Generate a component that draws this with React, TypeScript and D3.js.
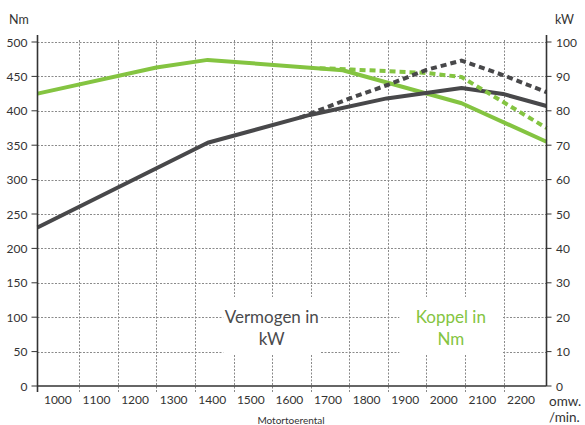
import React, { useEffect, useRef } from 'react';
import * as d3 from 'd3';

// Koppel (Nm), standaard curve
const torqueRpm = [942, 1250, 1383, 1733, 2041, 2261];
const torqueNm = [425, 463, 474, 459, 411, 355];

// Koppel (Nm), gestippelde curve
const torqueAltRpm = [1673, 1756, 1951, 2041, 2261];
const torqueAltNm = [462, 460, 455, 449, 375];

// Vermogen (kW), standaard curve
const powerRpm = [942, 1383, 1648, 1847, 2041, 2148, 2261];
const powerKw = [46.1, 70.7, 78.8, 83.6, 86.6, 84.9, 81.4];

// Vermogen (kW), gestippelde curve
const powerAltRpm = [1622, 1751, 1849, 1950, 2041, 2148, 2261];
const powerAltKw = [78, 83.6, 87.5, 91.9, 94.6, 90.4, 85.4];

const xTickLabels = [1000, 1100, 1200, 1300, 1400, 1500, 1600, 1700, 1800, 1900, 2000, 2100, 2200];
const xGridValues = [1050, 1150, 1250, 1350, 1450, 1550, 1650, 1750, 1850, 1950, 2050, 2150];
const nmTicks = [0, 50, 100, 150, 200, 250, 300, 350, 400, 450, 500];
const kwTicks = [0, 10, 20, 30, 40, 50, 60, 70, 80, 90, 100];

const GREEN = '#84c441';
const DARK = '#48484a';
const FONT = 'Lato, "Open Sans", sans-serif';

type Pt = { rpm: number; v: number };
const zip = (xs: number[], ys: number[]): Pt[] => xs.map((x, i) => ({ rpm: x, v: ys[i] }));

function App() {
  const svgRef = useRef<SVGSVGElement>(null);
  const width = 585;
  const height = 425;

  useEffect(() => {
    if (!svgRef.current) return;
    const svg = d3.select(svgRef.current);
    svg.selectAll('*').remove();

    const left = 37.5, right = 546.5, top = 42, bottom = 386;

    const x = d3.scaleLinear().domain([942, 2261]).range([left, right]);
    const yNm = d3.scaleLinear().domain([0, 500]).range([bottom, top]);
    const yKw = d3.scaleLinear().domain([0, 100]).range([bottom, top]);

    // grid
    const grid = svg.append('g')
      .attr('stroke', '#8a8a8a')
      .attr('stroke-width', 1)
      .attr('stroke-dasharray', '2,1.5');
    grid.selectAll('.hg')
      .data(nmTicks.filter(d => d > 0))
      .enter().append('line')
      .attr('x1', left).attr('x2', right)
      .attr('y1', d => Math.round(yNm(d)) + 0.5)
      .attr('y2', d => Math.round(yNm(d)) + 0.5);
    grid.selectAll('.vg')
      .data(xGridValues)
      .enter().append('line')
      .attr('x1', d => Math.round(x(d)) + 0.5).attr('x2', d => Math.round(x(d)) + 0.5)
      .attr('y1', top - 2).attr('y2', bottom + 6);

    // white boxes behind labels
    const boxes = [
      { cx: x(1549), w: 97 },
      { cx: x(2013), w: 103 },
    ];
    svg.selectAll('.box')
      .data(boxes)
      .enter().append('rect')
      .attr('x', d => d.cx - d.w / 2)
      .attr('y', 297)
      .attr('width', d => d.w)
      .attr('height', 58)
      .attr('fill', '#fff');

    // curves
    const line = (yScale: d3.ScaleLinear<number, number>) =>
      d3.line<Pt>().x(d => x(d.rpm)).y(d => yScale(d.v));

    const series = [
      { data: zip(torqueRpm, torqueNm), y: yNm, color: GREEN, dash: null },
      { data: zip(powerRpm, powerKw), y: yKw, color: DARK, dash: null },
      { data: zip(torqueAltRpm, torqueAltNm), y: yNm, color: GREEN, dash: '6,4' },
      { data: zip(powerAltRpm, powerAltKw), y: yKw, color: DARK, dash: '6,4' },
    ];
    series.forEach(s => {
      svg.append('path')
        .datum(s.data)
        .attr('d', line(s.y))
        .attr('fill', 'none')
        .attr('stroke', s.color)
        .attr('stroke-width', 4)
        .attr('stroke-linejoin', 'round')
        .attr('stroke-dasharray', s.dash);
    });

    // axes lines
    const axes = svg.append('g').attr('stroke', '#333').attr('stroke-width', 1.6);
    axes.append('line').attr('x1', left).attr('x2', left).attr('y1', top - 7).attr('y2', bottom + 6);
    axes.append('line').attr('x1', right).attr('x2', right).attr('y1', top - 7).attr('y2', bottom);
    axes.append('line').attr('x1', left).attr('x2', right).attr('y1', bottom).attr('y2', bottom);

    // left ticks
    const lt = svg.append('g');
    lt.selectAll('line')
      .data(nmTicks)
      .enter().append('line')
      .attr('x1', left - 6).attr('x2', left)
      .attr('y1', d => yNm(d)).attr('y2', d => yNm(d))
      .attr('stroke', '#333').attr('stroke-width', 1);
    lt.selectAll('text')
      .data(nmTicks)
      .enter().append('text')
      .attr('x', 27.5)
      .attr('y', d => yNm(d) + 4.5)
      .attr('text-anchor', 'end')
      .style('font-family', FONT).style('font-size', '12px').style('fill', '#333')
      .text(d => d);

    // right ticks
    const rt = svg.append('g');
    rt.selectAll('line')
      .data(kwTicks)
      .enter().append('line')
      .attr('x1', right).attr('x2', right + 5)
      .attr('y1', d => yKw(d)).attr('y2', d => yKw(d))
      .attr('stroke', '#333').attr('stroke-width', 1);
    rt.selectAll('text')
      .data(kwTicks)
      .enter().append('text')
      .attr('x', 556)
      .attr('y', d => yKw(d) + 4.5)
      .attr('text-anchor', 'start')
      .style('font-family', FONT).style('font-size', '12px').style('fill', '#333')
      .text(d => d);

    // x tick labels
    svg.append('g').selectAll('text')
      .data(xTickLabels)
      .enter().append('text')
      .attr('x', d => x(d) - 2)
      .attr('y', 404)
      .attr('text-anchor', 'middle')
      .style('font-family', FONT).style('font-size', '12px').style('fill', '#333')
      .text(d => d);

    // axis titles
    const txt = (tx: number, ty: number, s: string, size: number, anchor = 'start', color = '#333') =>
      svg.append('text')
        .attr('x', tx).attr('y', ty)
        .attr('text-anchor', anchor)
        .style('font-family', FONT).style('font-size', `${size}px`).style('fill', color)
        .text(s);

    txt(9, 24, 'Nm', 12.5);
    txt(555, 24, 'kW', 12.5);
    txt(549, 406, 'omw.', 13.5);
    txt(549, 422, '/min.', 13.5);
    txt(291, 424, 'Motortoerental', 10, 'middle');

    txt(x(1549), 323, 'Vermogen in', 17, 'middle', '#4a4a4c');
    txt(x(1549), 345, 'kW', 17, 'middle', '#4a4a4c');
    txt(x(2013), 323, 'Koppel in', 17, 'middle', GREEN);
    txt(x(2013), 345, 'Nm', 17, 'middle', GREEN);
  }, []);

  return (
    <svg
      ref={svgRef}
      width={width}
      height={height}
      style={{ position: 'absolute', left: 0, top: 0, background: '#fff' }}
    ></svg>
  );
}

export default App;
